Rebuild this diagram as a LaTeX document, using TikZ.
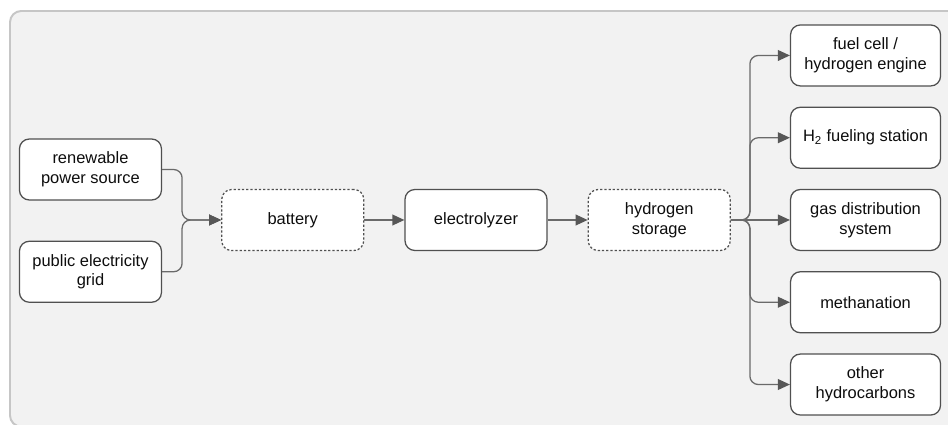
\documentclass[tikz,border=0pt]{standalone}
\usepackage{fontspec}
\setmainfont{Liberation Sans}
\usepackage{tikz}
\usetikzlibrary{arrows.meta,positioning,calc,backgrounds}
\definecolor{panelbg}{HTML}{F2F2F2}
\definecolor{panelrim}{HTML}{C6C6C6}
\definecolor{boxrim}{HTML}{505050}
\definecolor{flowgray}{HTML}{6A6A6A}
\definecolor{tipgray}{HTML}{575757}
\tikzset{
  stage/.style={rectangle,rounded corners=7pt,minimum width=3.55cm,minimum height=1.525cm,
    draw=boxrim,fill=white,text=black!95,line width=0.9pt,align=center,
    font=\fontsize{11.7}{14.2}\selectfont,inner sep=2pt},
  buffer/.style={stage,dash pattern=on 1.6pt off 1.4pt},
  useend/.style={stage,minimum width=3.75cm},
  flow/.style={-{Triangle[length=0.3cm,width=0.27cm,color=tipgray]},draw=flowgray,
    line width=0.9pt,rounded corners=6pt},
}

\begin{document}
\begin{tikzpicture}[node distance=0.5cm and 1cm]
  \useasboundingbox (0,0) rectangle (23.7,10.625);
  \clip (0,0) rectangle (23.7,10.625);
  % grey panel behind everything
  \draw[panelrim,fill=panelbg,line width=1.4pt,rounded corners=8pt]
    (0.25,-0.04) rectangle (24.2,10.35);

  % main chain
  \node[stage] (elec) at (11.9,5.125) {electrolyzer};
  \node[buffer,left=of elec] (battery) {battery};
  \node[buffer,right=of elec] (store) {hydrogen\\storage};

  % sources
  \node[stage,left=1.475cm of battery,yshift=1.2625cm] (renew) {renewable\\power source};
  \node[stage,below=1cm of renew] (grid) {public electricity\\grid};

  % hydrogen uses
  \node[useend,right=1.475cm of store] (gasdist) {gas distribution\\system};
  \node[useend,above=of gasdist] (fueling) {H\textsubscript{2} fueling station};
  \node[useend,above=of fueling] (fuelcell) {fuel cell /\\hydrogen engine};
  \node[useend,below=of gasdist] (methan) {methanation};
  \node[useend,below=of methan] (hydrocarb) {other\\hydrocarbons};

  \coordinate (join) at ($(renew.east)+(0.5,0)$);
  \coordinate (split) at ($(store.east)+(0.475,0)$);

  \draw[flow] (renew.east) -| (join |- battery.west) -- (battery.west);
  \draw[flow] (grid.east) -| (join |- battery.west) -- (battery.west);
  \draw[flow] (battery) -- (elec);
  \draw[flow] (elec) -- (store);
  \foreach \target in {fuelcell,fueling,methan,hydrocarb}
    \draw[flow] (store.east) -- (split) |- (\target.west);
  \draw[flow] (store.east) -- (gasdist.west);
\end{tikzpicture}
\end{document}
